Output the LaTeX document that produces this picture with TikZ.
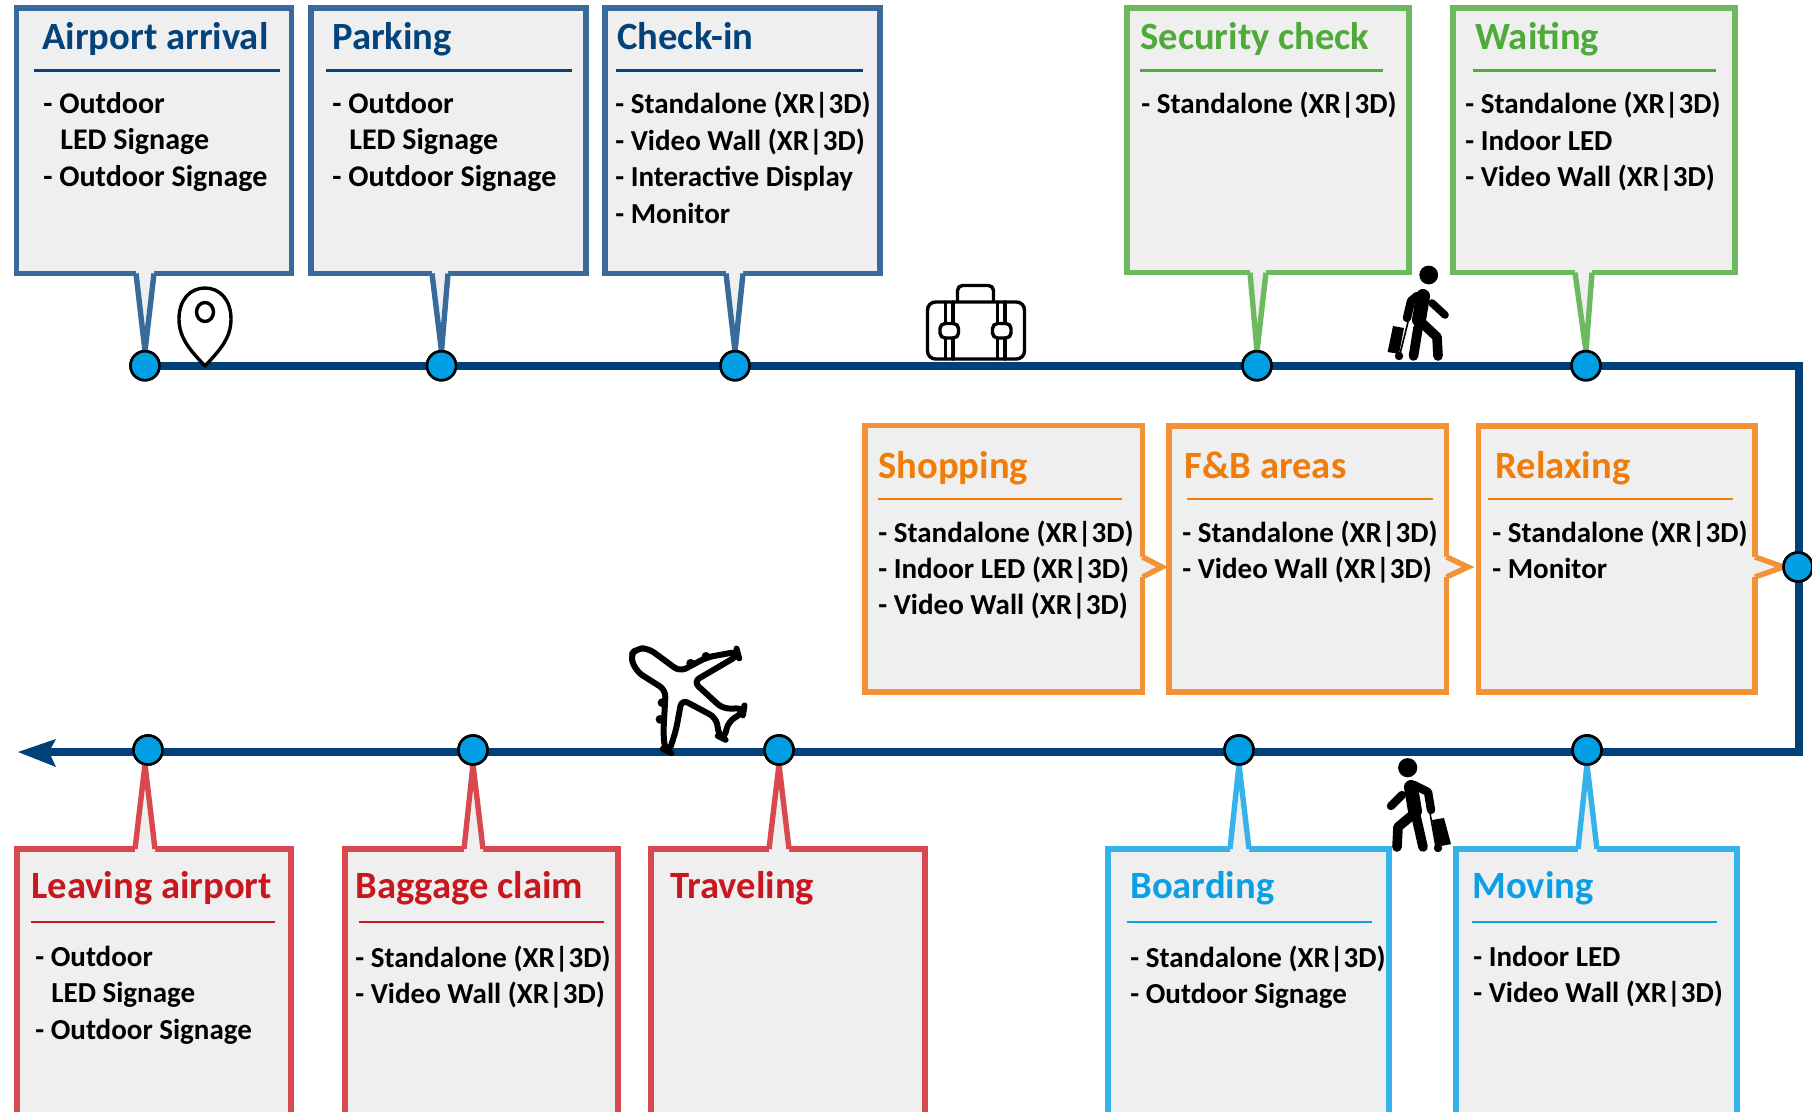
\documentclass[tikz,border=0pt]{standalone}
\usepackage{fontspec}
\setmainfont{Carlito}
\usetikzlibrary{calc,arrows.meta}
\definecolor{boxfill}{HTML}{EFEFEF}
\definecolor{trackc}{HTML}{00417A}
\definecolor{dotc}{HTML}{009FE3}
\definecolor{bs}{HTML}{386A9B}\definecolor{bt}{HTML}{04427B}
\definecolor{gs}{HTML}{6DB95F}\definecolor{gt}{HTML}{4EAA3A}
\definecolor{os}{HTML}{F39237}\definecolor{ot}{HTML}{F07D0A}
\definecolor{rs}{HTML}{D9484E}\definecolor{rt}{HTML}{C8171F}
\definecolor{cs}{HTML}{35B2EA}\definecolor{ct}{HTML}{0BA0E5}
\tikzset{
  panel/.style={rectangle,fill=boxfill,line width=2.7pt,inner sep=0pt,outer sep=0pt,line join=miter},
  ttl/.style={anchor=base west,inner sep=0pt,font=\bfseries\fontsize{19.3pt}{21pt}\selectfont},
  items/.style={anchor=north west,inner sep=0pt,align=left,
    font=\bfseries\fontsize{14.5pt}{18.2pt}\selectfont,
    execute at begin node={\rule{0pt}{12pt}}},
  itemsbig/.style={items,font=\bfseries\fontsize{15pt}{18.2pt}\selectfont},
  rulee/.style={line width=1.25pt},
  dotn/.style={circle,fill=dotc,draw=black,line width=1.3pt,minimum size=14.5pt,inner sep=0pt,outer sep=0pt},
  track/.style={draw=trackc,line width=4.1pt,line join=miter},
  icon/.style={draw=black,line width=1.7pt,line join=round,line cap=round},
  figline/.style={draw=black,line cap=round,line join=round},
}
% name x1 y1 x2 y2 colour
\newcommand\cbox[6]{\node[panel,draw=#6,minimum width={(#4-#2)*0.5pt},minimum height={(#5-#3)*0.5pt}] (#1) at ({(#2+#4)/2},{(#3+#5)/2}) {};}
% colour, root a, root b, tip, inward shift
\newcommand\tail[5]{%
  \fill[boxfill] ($(#2)+(#5)$) -- (#2) -- (#4) -- (#3) -- ($(#3)+(#5)$) -- cycle;
  \draw[draw=#1,line width=2.7pt,line join=miter,miter limit=12,line cap=square] (#2) -- (#4) -- (#3);}
% name x baseline text colour
\newcommand\ttlat[5]{\node[ttl,text=#5] (#1) at (#2,#3) {#4};}
\newcommand\itemsat[4]{\node[items] (#1) at (#2,{#3-24}) {#4};}
\newcommand\itemsbigat[4]{\node[itemsbig] (#1) at (#2,{#3-24}) {#4};}
\begin{document}
\begin{tikzpicture}[x=0.5pt,y=-0.5pt]
\useasboundingbox (0,0) rectangle (1812,1112);
\fill[white] (0,0) rectangle (1812,1112);
\clip (0,0) rectangle (1812,1112);

% timeline stops
\node[dotn] (d1) at (145,365.7) {};
\node[dotn] (d2) at (441.5,365.7) {};
\node[dotn] (d3) at (735,365.7) {};
\node[dotn] (d4) at (1257,365.7) {};
\node[dotn] (d5) at (1586,365.7) {};
\node[dotn] (d6) at (1798,567) {};
\node[dotn] (d7) at (1587,750) {};
\node[dotn] (d8) at (1239,750) {};
\node[dotn] (d9) at (779,750) {};
\node[dotn] (d10) at (473,750) {};
\node[dotn] (d11) at (148,750) {};
\coordinate (c1) at (1799,365.7);
\coordinate (c2) at (1799,752);
\coordinate (end) at (47,752);
\coordinate (f1) at (1162,567);
\coordinate (f2) at (1468,567);

% track
\draw[track] (d1.center) -- (c1) -- (c2) -- (end);
\fill[trackc] (18,752) -- (56,739) -- (49,752) -- (56,767) -- cycle;

% blue boxes
\cbox{b1}{16.5}{8}{291.5}{273.5}{bs}
\cbox{b2}{311}{8}{586}{273.5}{bs}
\cbox{b3}{605}{8}{880}{273.5}{bs}
\tail{bs}{136,273.5}{154,273.5}{d1.north}{0,-2.9}
\tail{bs}{432,273.5}{448,273.5}{d2.north}{0,-2.9}
\tail{bs}{726,273.5}{743,273.5}{d3.north}{0,-2.9}
% green boxes
\cbox{g1}{1127}{8}{1409}{272.7}{gs}
\cbox{g2}{1453}{8}{1735}{272.7}{gs}
\tail{gs}{1250,272.7}{1266,272.7}{d4.north}{0,-2.9}
\tail{gs}{1575,272.7}{1592,272.7}{d5.north}{0,-2.9}
% orange boxes
\cbox{o1}{865}{425.5}{1142.5}{692}{os}
\cbox{o2}{1169}{426}{1446.5}{692}{os}
\cbox{o3}{1478.5}{426}{1755}{692}{os}
\tail{os}{1142.5,557}{1142.5,577}{f1}{-2.9,0}
\tail{os}{1446.5,557}{1446.5,577}{f2}{-2.9,0}
\tail{os}{1755,557}{1755,577}{d6.west}{-2.9,0}
% red boxes
\cbox{r1}{17}{849}{291}{1130}{rs}
\cbox{r2}{345}{849}{618}{1130}{rs}
\cbox{r3}{651}{849}{925}{1130}{rs}
\tail{rs}{135,849}{155,849}{$(d11.south)+(-3,0)$}{0,2.9}
\tail{rs}{464,849}{483,849}{d10.south}{0,2.9}
\tail{rs}{769,849}{789,849}{d9.south}{0,2.9}
% cyan boxes
\cbox{k1}{1108}{849}{1389}{1130}{cs}
\cbox{k2}{1456}{849}{1737}{1130}{cs}
\tail{cs}{1230,849}{1249,849}{d8.south}{0,2.9}
\tail{cs}{1578,849}{1597,849}{d7.south}{0,2.9}

% redraw stops over tails
\foreach \n in {d1,d2,d3,d4,d5,d6,d7,d8,d9,d10,d11}
  \fill[dotc,draw=black,line width=1.3pt] (\n) circle (7.25pt);

% texts
\ttlat{t1}{42}{50}{Airport arrival}{bt}
\draw[rulee,bt] (34,70.7) -- (280,70.7);
\itemsbigat{i1}{43}{116}{- Outdoor\\\hspace*{8.5pt}LED Signage\\- Outdoor Signage}
\ttlat{t2}{332}{50}{Parking}{bt}
\draw[rulee,bt] (326,70.7) -- (572,70.7);
\itemsbigat{i2}{332}{116}{- Outdoor\\\hspace*{8.5pt}LED Signage\\- Outdoor Signage}
\ttlat{t3}{617}{50}{Check-in}{bt}
\draw[rulee,bt] (616,70.7) -- (863,70.7);
\itemsat{i3}{615}{116}{- Standalone (XR|3D)\\- Video Wall (XR|3D)\\- Interactive Display\\- Monitor}
\ttlat{t4}{1140}{50}{Security check}{gt}
\draw[rulee,gt] (1140,70.7) -- (1383,70.7);
\itemsat{i4}{1141}{113}{- Standalone (XR|3D)}
\ttlat{t5}{1475}{50}{Waiting}{gt}
\draw[rulee,gt] (1473,70.7) -- (1716,70.7);
\itemsat{i5}{1465}{116}{- Standalone (XR|3D)\\- Indoor LED\\- Video Wall (XR|3D)}

\ttlat{t6}{878}{479}{Shopping}{ot}
\draw[rulee,ot] (878,499) -- (1122,499);
\itemsat{i6}{878}{544.2}{- Standalone (XR|3D)\\- Indoor LED (XR|3D)\\- Video Wall (XR|3D)}
\ttlat{t7}{1184.5}{479}{F\&B areas}{ot}
\draw[rulee,ot] (1187,499) -- (1433,499);
\itemsat{i7}{1182}{544.2}{- Standalone (XR|3D)\\- Video Wall (XR|3D)}
\ttlat{t8}{1495}{479}{Relaxing}{ot}
\draw[rulee,ot] (1488,499) -- (1733,499);
\itemsat{i8}{1492}{544.2}{- Standalone (XR|3D)\\- Monitor}

\ttlat{t9}{31}{898}{Leaving airport}{rt}
\draw[rulee,rt] (31,922) -- (275,922);
\itemsat{i9}{35}{969.5}{- Outdoor\\\hspace*{8pt}LED Signage\\- Outdoor Signage}
\ttlat{t10}{355}{898}{Baggage claim}{rt}
\draw[rulee,rt] (359,922) -- (604,922);
\itemsat{i10}{355}{969.5}{- Standalone (XR|3D)\\- Video Wall (XR|3D)}
\ttlat{t11}{670}{898}{Traveling}{rt}
\ttlat{t12}{1130}{898}{Boarding}{ct}
\draw[rulee,ct] (1127,922) -- (1372,922);
\itemsat{i12}{1130}{969.5}{- Standalone (XR|3D)\\- Outdoor Signage}
\ttlat{t13}{1472}{898}{Moving}{ct}
\draw[rulee,ct] (1472,922) -- (1717,922);
\itemsat{i13}{1473}{969.5}{- Indoor LED\\- Video Wall (XR|3D)}

% pin
\draw[icon,fill=white] (205,366) .. controls (190,350) and (179,338) .. (179,319)
  .. controls (179,300) and (190,288) .. (205,288)
  .. controls (220,288) and (231,300) .. (231,319)
  .. controls (231,338) and (220,350) .. (205,366) -- cycle;
\draw[icon] (205,312) ellipse (8.5 and 9.5);

% suitcase
\draw[icon,rounded corners=4pt] (927.5,302) rectangle (1024.5,359);
\draw[icon,rounded corners=2.5pt] (957.5,301) -- (957.5,285.5) -- (993.5,285.5) -- (993.5,301);
\foreach \sx in {945.5,953,997.5,1005}{
  \draw[icon] (\sx,302) -- (\sx,323.5);
  \draw[icon] (\sx,338) -- (\sx,359);}
\draw[icon,rounded corners=2.5pt] (940,323.5) rectangle (958.5,338);
\draw[icon,rounded corners=2.5pt] (992.5,323.5) rectangle (1011,338);

% walker, top
\fill (1428.7,275) circle (4.7pt);
\draw[figline,line width=7pt] (1423,296) -- (1419,320);
\draw[figline,line width=4.2pt] (1417,296) -- (1411,301) -- (1407,318);
\draw[figline,line width=3.8pt] (1432,303) -- (1445,315);
\draw[figline,line width=4.8pt] (1421,322) -- (1437,337) -- (1438,356);
\draw[figline,line width=4.8pt] (1418,328) -- (1413.5,356);
\fill (1393,326) -- (1404,328) -- (1399,354) -- (1387.6,352) -- cycle;
\draw[line width=.8pt] (1408,322) -- (1400,354);
\fill (1399,356) circle (2.1pt);

% walker, bottom
\fill (1407.7,767.7) circle (4.8pt);
\draw[figline,line width=7pt] (1411,787) -- (1415,811);
\draw[figline,line width=4.2pt] (1414,785) -- (1428,792) -- (1431,810);
\draw[figline,line width=4.2pt] (1402,795) -- (1391,806);
\draw[figline,line width=4.8pt] (1416,812) -- (1398,827) -- (1397,847);
\draw[figline,line width=4.8pt] (1416,816) -- (1423,847);
\fill (1432,820) -- (1444,818) -- (1451,844) -- (1436,847) -- cycle;
\draw[line width=.8pt] (1430,813) -- (1436,847);
\fill (1438,848) circle (2.1pt);

% plane
\begin{scope}[shift={(600,620)},x=0.1667pt,y=-0.1667pt]
\fill (272,130) circle (2.2pt);
\fill (318,109) circle (2.2pt);
\fill (186,248) circle (2.2pt);
\fill (180,298) circle (2.2pt);
\draw[draw=black,fill=white,line width=3pt,line join=round,rounded corners=3.5pt]
  (90,108) -- (110,85) -- (145,85) -- (240,155) -- (320,112) -- (412,95) -- (415,106)
  -- (280,185) -- (368,266) -- (432,265) -- (430,277) -- (385,305) -- (372,357) -- (358,350)
  -- (348,293) -- (245,238) -- (228,330) -- (207,396) -- (195,390) -- (190,340) -- (197,210)
  -- (110,155) -- cycle;
\end{scope}
\end{tikzpicture}
\end{document}
